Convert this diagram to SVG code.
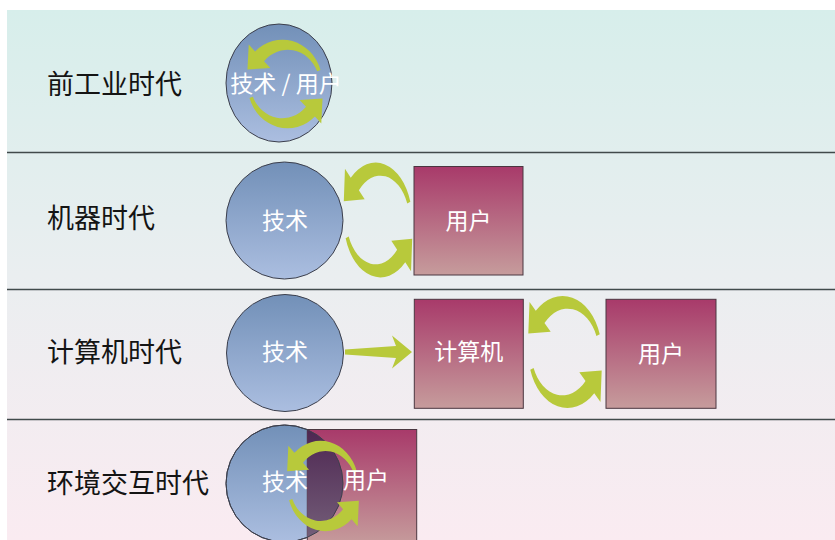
<svg xmlns="http://www.w3.org/2000/svg" xmlns:xlink="http://www.w3.org/1999/xlink" width="835" height="540" viewBox="0 0 835 540">
<defs>
  <linearGradient id="bg" x1="0" y1="0" x2="0" y2="1">
    <stop offset="0" stop-color="#d7eeeb"/>
    <stop offset="0.5" stop-color="#eaeef0"/>
    <stop offset="1" stop-color="#faebf1"/>
  </linearGradient>
  <linearGradient id="blue" x1="0" y1="0" x2="0" y2="1">
    <stop offset="0" stop-color="#7290b8"/>
    <stop offset="1" stop-color="#abbee0"/>
  </linearGradient>
  <linearGradient id="plum" x1="0" y1="0" x2="0" y2="1">
    <stop offset="0" stop-color="#a83a6a"/>
    <stop offset="1" stop-color="#c69c9c"/>
  </linearGradient>
  <linearGradient id="dark" x1="0" y1="0" x2="0" y2="1">
    <stop offset="0" stop-color="#4c2450"/>
    <stop offset="1" stop-color="#75607a"/>
  </linearGradient>
  <clipPath id="sqClip"><rect x="307.3" y="429.5" width="109.4" height="115"/></clipPath>
  <path id="arcTop" d="M39.47,-14.36 A44.5,44.5 0 0 0 -33.23,-33.23 L-40.3,-40.3 L-41.7,-14.85 L-16.26,-16.26 L-23.33,-23.33 A35.5,35.5 0 0 1 35.71,-13.0 Z"/>
  <style>
    .lbl{font-family:"Noto Sans CJK SC","Noto Sans",sans-serif;font-size:27px;fill:#141414;dominant-baseline:central}
    .wt{font-family:"Noto Sans CJK SC","Noto Sans",sans-serif;font-size:23px;fill:#ffffff;text-anchor:middle;dominant-baseline:central}
    .circ{fill:url(#blue);stroke:#3c3f4c;stroke-width:1}
    .sq{fill:url(#plum);stroke:#4a3640;stroke-width:1}
    .arr{fill:#b8c93b}
    .sep{stroke:#414a4b;stroke-width:1.6}
  </style>
</defs>

<rect x="0" y="0" width="835" height="540" fill="#ffffff"/>
<rect x="7" y="10" width="828" height="530" fill="url(#bg)"/>
<g id="separators">
  <line class="sep" x1="7" y1="152.5" x2="835" y2="152.5"/>
  <line class="sep" x1="7" y1="289.5" x2="835" y2="289.5"/>
  <line class="sep" x1="7" y1="419.5" x2="835" y2="419.5"/>
</g>

<g id="labels">
  <text class="lbl" x="47" y="82">前工业时代</text>
  <text class="lbl" x="47" y="216">机器时代</text>
  <text class="lbl" x="47" y="350">计算机时代</text>
  <text class="lbl" x="47" y="481">环境交互时代</text>
</g>

<g id="row1-tech-user">
  <ellipse class="circ" cx="279" cy="83" rx="53" ry="59"/>
</g>
<g id="row2-tech">
  <circle class="circ" cx="284.5" cy="220.5" r="58.5"/>
  <text class="wt" x="285" y="219">技术</text>
</g>
<g id="row2-user">
  <rect class="sq" x="414" y="166.5" width="109" height="108.5"/>
  <text class="wt" x="468.5" y="219">用户</text>
</g>
<g id="row3-tech">
  <circle class="circ" cx="285" cy="353" r="58.5"/>
  <text class="wt" x="285" y="350">技术</text>
</g>
<g id="row3-computer">
  <rect class="sq" x="414.3" y="299.3" width="109" height="109"/>
  <text class="wt" x="468.8" y="350">计算机</text>
</g>
<g id="row3-user">
  <rect class="sq" x="606" y="299.3" width="110" height="109"/>
  <text class="wt" x="661" y="352">用户</text>
</g>
<g id="row4-tech-user">
  <circle class="circ" cx="284.5" cy="483.5" r="58.5"/>
  <rect class="sq" x="307.3" y="429.5" width="109.4" height="115"/>
  <circle cx="284.5" cy="483.5" r="58.5" fill="url(#dark)" clip-path="url(#sqClip)"/>
  <circle cx="284.5" cy="483.5" r="58.5" fill="none" stroke="#3c3f4c" stroke-width="1"/>
</g>

<g id="connectors">
  <use class="arr" xlink:href="#arcTop" transform="translate(285,84) scale(0.9,0.98)"/>
  <use class="arr" xlink:href="#arcTop" transform="translate(285,84) scale(0.9,0.98) rotate(180)"/>
  <use class="arr" xlink:href="#arcTop" transform="translate(378,220) scale(0.82,1.27)"/>
  <use class="arr" xlink:href="#arcTop" transform="translate(378,220) scale(0.82,1.27) rotate(180)"/>
  <path class="arr" d="M345,349.5 L396,346 L392,335.5 L412,352 L392,368.5 L396,358 L345,354.5 Z"/>
  <use class="arr" xlink:href="#arcTop" transform="translate(565,352) scale(0.88,1.24)"/>
  <use class="arr" xlink:href="#arcTop" transform="translate(565,352) scale(0.88,1.24) rotate(180)"/>
  <use class="arr" xlink:href="#arcTop" transform="translate(323,486) scale(0.86,1.0)"/>
  <use class="arr" xlink:href="#arcTop" transform="translate(323,486) scale(0.86,1.0) rotate(180)"/>
</g>

<g id="overlay-text">
  <text class="wt" x="286" y="82">技术 / 用户</text>
  <text class="wt" x="285" y="480">技术</text>
  <text class="wt" x="366" y="478">用户</text>
</g>
</svg>
